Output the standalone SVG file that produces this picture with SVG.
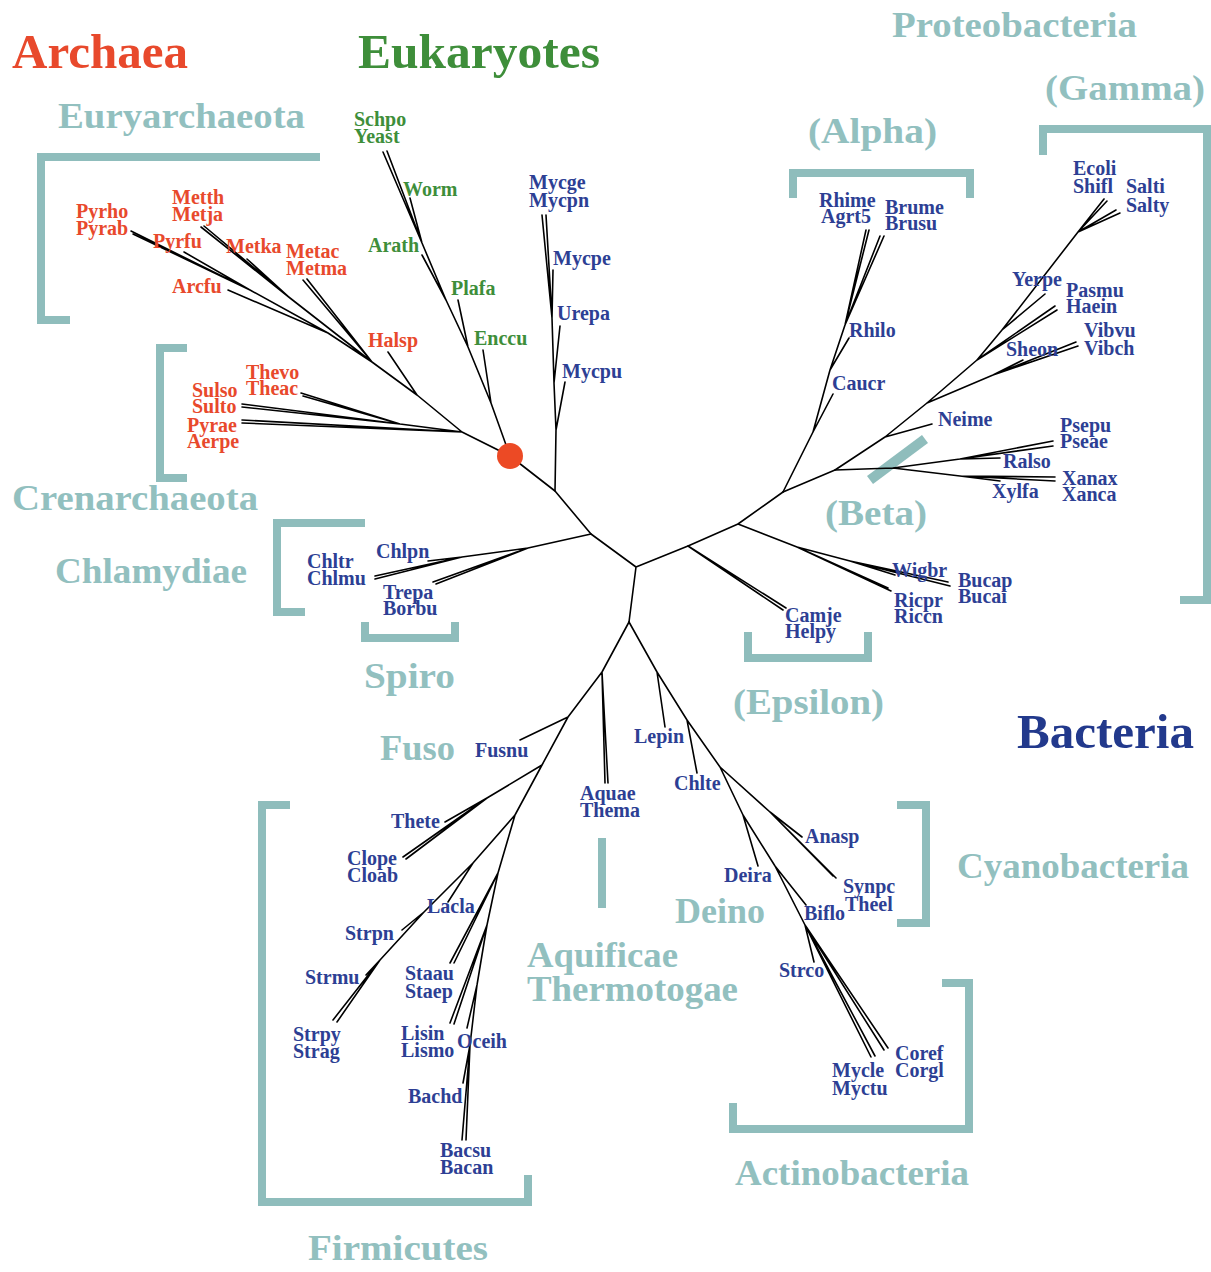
<svg xmlns="http://www.w3.org/2000/svg" width="1211" height="1272" viewBox="0 0 1211 1272">
<style>
text{font-family:"Liberation Serif","Times New Roman",serif;font-weight:bold}
.leaf{font-size:20px}
.ar{fill:#e8492c}
.eu{fill:#3e8e3a}
.ba{fill:#2d3f94}
.grp{font-size:36px;fill:#92c0bf}
.title{font-size:49px}
.br{fill:none;stroke:#8fbdbc;stroke-width:8}
.tree{fill:none;stroke:#000;stroke-width:1.6;stroke-linecap:round;stroke-linejoin:round}
</style>
<rect width="1211" height="1272" fill="#fff"/>

<g id="brackets">
<path class="br" d="M320,157 H41 V320 H70"/>
<path class="br" d="M187,348 H160 V478 H187"/>
<path class="br" d="M365,523 H277 V612 H305"/>
<path class="br" d="M365,622 V638 H455 V622"/>
<path class="br" d="M793,198 V173 H970 V198"/>
<path class="br" d="M1043,155 V129 H1207 V600 H1180"/>
<path class="br" d="M748,632 V658 H868 V632"/>
<path class="br" d="M897,805 H926 V923 H897"/>
<path class="br" d="M942,983 H969 V1129 H733 V1103"/>
<path class="br" d="M290,805 H262 V1202 H528 V1175"/>
<path class="br" d="M602,838 V908"/>
<path class="br" d="M870,480 L925,439" style="stroke-width:10"/>
</g>

<g id="connectors" class="tree">
<path d="M636,567 L591,534 L555,491 L510,456 M636,567 L629,622 M636,567 L688,546"/>
<path d="M510,456 L462,432 M462,432 L400,424 L301,393 M400,424 L303,396 M400,424 L242,404 M400,424 L242,407 M462,432 L242,420 M462,432 L242,423 M462,432 L417,395 L388,352 M417,395 L372,362 M372,362 L303,280 M372,362 L307,279 M372,362 L290,298 L247,259 M290,298 L201,227 M290,298 L204,226 M372,362 L328,333 L228,290 M328,333 L250,290 L184,252 M250,290 L131,231 M250,290 L133,234"/>
<path d="M510,456 L491,403 L483,350 M491,403 L468,347 L458,300 M468,347 L446,300 L422,255 M446,300 L422,243 L410,198 M422,243 L383,152 M422,243 L387,151"/>
<path d="M555,491 L556,430 L565,382 M556,430 L554,383 L560,326 M554,383 L552,318 L553,270 M552,318 L542,215 M552,318 L546,215"/>
<path d="M591,534 L528,548 L462,557 L428,561 M462,557 L375,576 M462,557 L375,579 M528,548 L433,582 M528,548 L436,584"/>
<path d="M688,546 L783,610 M688,546 L786,608 M688,546 L738,524 M738,524 L797,547 L888,588 M797,547 L891,591 M797,547 L850,561 L895,575 M850,561 L948,582 M850,561 L950,586 M738,524 L783,492"/>
<path d="M783,492 L813,432 L833,394 M813,432 L830,370 L849,338 M830,370 L845,325 L866,230 M845,325 L869,230 M845,325 L880,236 M845,325 L884,236"/>
<path d="M783,492 L835,470 L893,468 M893,468 L960,459 L1000,458 M960,459 L1053,441 M960,459 L1053,446 M893,468 L960,476 L1000,481 M960,476 L1055,477 M960,476 L1055,481"/>
<path d="M835,470 L885,437 L932,424 M885,437 L927,403 M927,403 L993,375 L1023,360 M993,375 L1076,342 M993,375 L1078,346 M927,403 L977,360 L1055,306 M977,360 L1057,310 M977,360 L1002,330 L1045,294 M1002,330 L1078,232 L1104,199 M1078,232 L1107,201 M1078,232 L1116,210 M1078,232 L1120,213"/>
<path d="M629,622 L657,672 L665,727 M657,672 L687,720 L697,773 M687,720 L720,767 M720,767 L770,812 L802,837 M770,812 L833,876 M770,812 L836,878 M720,767 L743,815 L758,866 M743,815 L775,866 L806,905 M775,866 L805,925 L814,962 M805,925 L871,1057 M805,925 L875,1056 M805,925 L884,1050 M805,925 L888,1048"/>
<path d="M629,622 L602,672 L568,717 L542,765 M602,672 L605,783 M602,672 L608,783 M568,717 L520,740 M542,765 L487,798 L445,822 M487,798 L403,857 M487,798 L406,859 M542,765 L515,815 M515,815 L473,863 L448,902 M473,863 L424,912 L402,930 M424,912 L380,960 L366,975 M380,960 L333,1020 M380,960 L337,1022 M515,815 L498,873 M498,873 L450,963 M498,873 L454,963 M498,873 L487,925 M487,925 L450,1023 M487,925 L454,1024 M487,925 L477,985 L467,1028 M477,985 L470,1045 L463,1083 M470,1045 L462,1140 M470,1045 L466,1140"/>
</g>

<g id="root"><circle cx="510" cy="456" r="13" fill="#ec4a25"/></g>

<g id="titles">
<text class="title ar" x="12" y="68" textLength="176" lengthAdjust="spacingAndGlyphs">Archaea</text>
<text class="title eu" x="358" y="68" textLength="242" lengthAdjust="spacingAndGlyphs">Eukaryotes</text>
<text class="title" x="1017" y="748" fill="#22398c" textLength="177" lengthAdjust="spacingAndGlyphs">Bacteria</text>
</g>

<g id="groups">
<text class="grp" x="892" y="37" textLength="245" lengthAdjust="spacingAndGlyphs">Proteobacteria</text>
<text class="grp" x="1045" y="100" textLength="160" lengthAdjust="spacingAndGlyphs">(Gamma)</text>
<text class="grp" x="808" y="143" textLength="129" lengthAdjust="spacingAndGlyphs">(Alpha)</text>
<text class="grp" x="58" y="128" textLength="247" lengthAdjust="spacingAndGlyphs">Euryarchaeota</text>
<text class="grp" x="12" y="510" textLength="246" lengthAdjust="spacingAndGlyphs">Crenarchaeota</text>
<text class="grp" x="55" y="583" textLength="192" lengthAdjust="spacingAndGlyphs">Chlamydiae</text>
<text class="grp" x="825" y="525" textLength="102" lengthAdjust="spacingAndGlyphs">(Beta)</text>
<text class="grp" x="364" y="688" textLength="91" lengthAdjust="spacingAndGlyphs">Spiro</text>
<text class="grp" x="733" y="714" textLength="151" lengthAdjust="spacingAndGlyphs">(Epsilon)</text>
<text class="grp" x="380" y="760" textLength="75" lengthAdjust="spacingAndGlyphs">Fuso</text>
<text class="grp" x="957" y="878" textLength="232" lengthAdjust="spacingAndGlyphs">Cyanobacteria</text>
<text class="grp" x="675" y="923" textLength="90" lengthAdjust="spacingAndGlyphs">Deino</text>
<text class="grp" x="527" y="967" textLength="151" lengthAdjust="spacingAndGlyphs">Aquificae</text>
<text class="grp" x="527" y="1001" textLength="211" lengthAdjust="spacingAndGlyphs">Thermotogae</text>
<text class="grp" x="735" y="1185" textLength="234" lengthAdjust="spacingAndGlyphs">Actinobacteria</text>
<text class="grp" x="308" y="1260" textLength="180" lengthAdjust="spacingAndGlyphs">Firmicutes</text>
</g>

<g id="archaea-leaves" class="leaf ar">
<g id="n-pyrho"><text x="76" y="218">Pyrho<tspan x="76" dy="17">Pyrab</tspan></text></g>
<g id="n-metth"><text x="172" y="204">Metth<tspan x="172" dy="17">Metja</tspan></text></g>
<g id="n-pyrfu"><text x="153" y="248">Pyrfu</text></g>
<g id="n-metka"><text x="226" y="253">Metka</text></g>
<g id="n-metac"><text x="286" y="258">Metac<tspan x="286" dy="17">Metma</tspan></text></g>
<g id="n-arcfu"><text x="172" y="293">Arcfu</text></g>
<g id="n-halsp"><text x="368" y="347">Halsp</text></g>
<g id="n-thevo"><text x="246" y="379">Thevo<tspan x="246" dy="16">Theac</tspan></text></g>
<g id="n-sulso"><text x="192" y="397">Sulso<tspan x="192" dy="16">Sulto</tspan></text></g>
<g id="n-pyrae"><text x="187" y="432">Pyrae<tspan x="187" dy="16">Aerpe</tspan></text></g>
</g>

<g id="eukaryote-leaves" class="leaf eu">
<g id="n-schpo"><text x="354" y="126">Schpo<tspan x="354" dy="17">Yeast</tspan></text></g>
<g id="n-worm"><text x="403" y="196">Worm</text></g>
<g id="n-arath"><text x="368" y="252">Arath</text></g>
<g id="n-plafa"><text x="451" y="295">Plafa</text></g>
<g id="n-enccu"><text x="474" y="345">Enccu</text></g>
</g>

<g id="bacteria-leaves" class="leaf ba">
<g id="n-mycge"><text x="529" y="189">Mycge<tspan x="529" dy="18">Mycpn</tspan></text></g>
<g id="n-mycpe"><text x="553" y="265">Mycpe</text></g>
<g id="n-urepa"><text x="557" y="320">Urepa</text></g>
<g id="n-mycpu"><text x="562" y="378">Mycpu</text></g>
<g id="n-rhime"><text x="819" y="207">Rhime<tspan x="821" dy="16">Agrt5</tspan></text></g>
<g id="n-brume"><text x="885" y="214">Brume<tspan x="885" dy="16">Brusu</tspan></text></g>
<g id="n-rhilo"><text x="849" y="337">Rhilo</text></g>
<g id="n-caucr"><text x="832" y="390">Caucr</text></g>
<g id="n-ecoli"><text x="1073" y="175">Ecoli<tspan x="1073" dy="18">Shifl</tspan></text></g>
<g id="n-salti"><text x="1126" y="193">Salti<tspan x="1126" dy="19">Salty</tspan></text></g>
<g id="n-yerpe"><text x="1012" y="286">Yerpe</text></g>
<g id="n-pasmu"><text x="1066" y="297">Pasmu<tspan x="1066" dy="16">Haein</tspan></text></g>
<g id="n-vibvu"><text x="1084" y="337">Vibvu<tspan x="1084" dy="18">Vibch</tspan></text></g>
<g id="n-sheon"><text x="1006" y="356">Sheon</text></g>
<g id="n-neime"><text x="938" y="426">Neime</text></g>
<g id="n-psepu"><text x="1060" y="432">Psepu<tspan x="1060" dy="16">Pseae</tspan></text></g>
<g id="n-ralso"><text x="1003" y="468">Ralso</text></g>
<g id="n-xanax"><text x="1062" y="485">Xanax<tspan x="1062" dy="16">Xanca</tspan></text></g>
<g id="n-xylfa"><text x="992" y="498">Xylfa</text></g>
<g id="n-chlpn"><text x="376" y="558">Chlpn</text></g>
<g id="n-chltr"><text x="307" y="568">Chltr<tspan x="307" dy="17">Chlmu</tspan></text></g>
<g id="n-trepa"><text x="383" y="599">Trepa<tspan x="383" dy="16">Borbu</tspan></text></g>
<g id="n-wigbr"><text x="892" y="577">Wigbr</text></g>
<g id="n-bucap"><text x="958" y="587">Bucap<tspan x="958" dy="16">Bucai</tspan></text></g>
<g id="n-ricpr"><text x="894" y="607">Ricpr<tspan x="894" dy="16">Riccn</tspan></text></g>
<g id="n-camje"><text x="785" y="622">Camje<tspan x="785" dy="16">Helpy</tspan></text></g>
<g id="n-fusnu"><text x="475" y="757">Fusnu</text></g>
<g id="n-thete"><text x="391" y="828">Thete</text></g>
<g id="n-clope"><text x="347" y="865">Clope<tspan x="347" dy="17">Cloab</tspan></text></g>
<g id="n-lacla"><text x="427" y="913">Lacla</text></g>
<g id="n-strpn"><text x="345" y="940">Strpn</text></g>
<g id="n-strmu"><text x="305" y="984">Strmu</text></g>
<g id="n-staau"><text x="405" y="980">Staau<tspan x="405" dy="18">Staep</tspan></text></g>
<g id="n-strpy"><text x="293" y="1041">Strpy<tspan x="293" dy="17">Strag</tspan></text></g>
<g id="n-lisin"><text x="401" y="1040">Lisin<tspan x="401" dy="17">Lismo</tspan></text></g>
<g id="n-oceih"><text x="457" y="1048">Oceih</text></g>
<g id="n-bachd"><text x="408" y="1103">Bachd</text></g>
<g id="n-bacsu"><text x="440" y="1157">Bacsu<tspan x="440" dy="17">Bacan</tspan></text></g>
<g id="n-lepin"><text x="634" y="743">Lepin</text></g>
<g id="n-aquae"><text x="580" y="800">Aquae<tspan x="580" dy="17">Thema</tspan></text></g>
<g id="n-chlte"><text x="674" y="790">Chlte</text></g>
<g id="n-anasp"><text x="805" y="843">Anasp</text></g>
<g id="n-synpc"><text x="843" y="893">Synpc<tspan x="845" dy="18">Theel</tspan></text></g>
<g id="n-deira"><text x="724" y="882">Deira</text></g>
<g id="n-biflo"><text x="804" y="920">Biflo</text></g>
<g id="n-strco"><text x="779" y="977">Strco</text></g>
<g id="n-coref"><text x="895" y="1060">Coref<tspan x="895" dy="17">Corgl</tspan></text></g>
<g id="n-mycle"><text x="832" y="1077">Mycle<tspan x="832" dy="18">Myctu</tspan></text></g>
</g>
</svg>
